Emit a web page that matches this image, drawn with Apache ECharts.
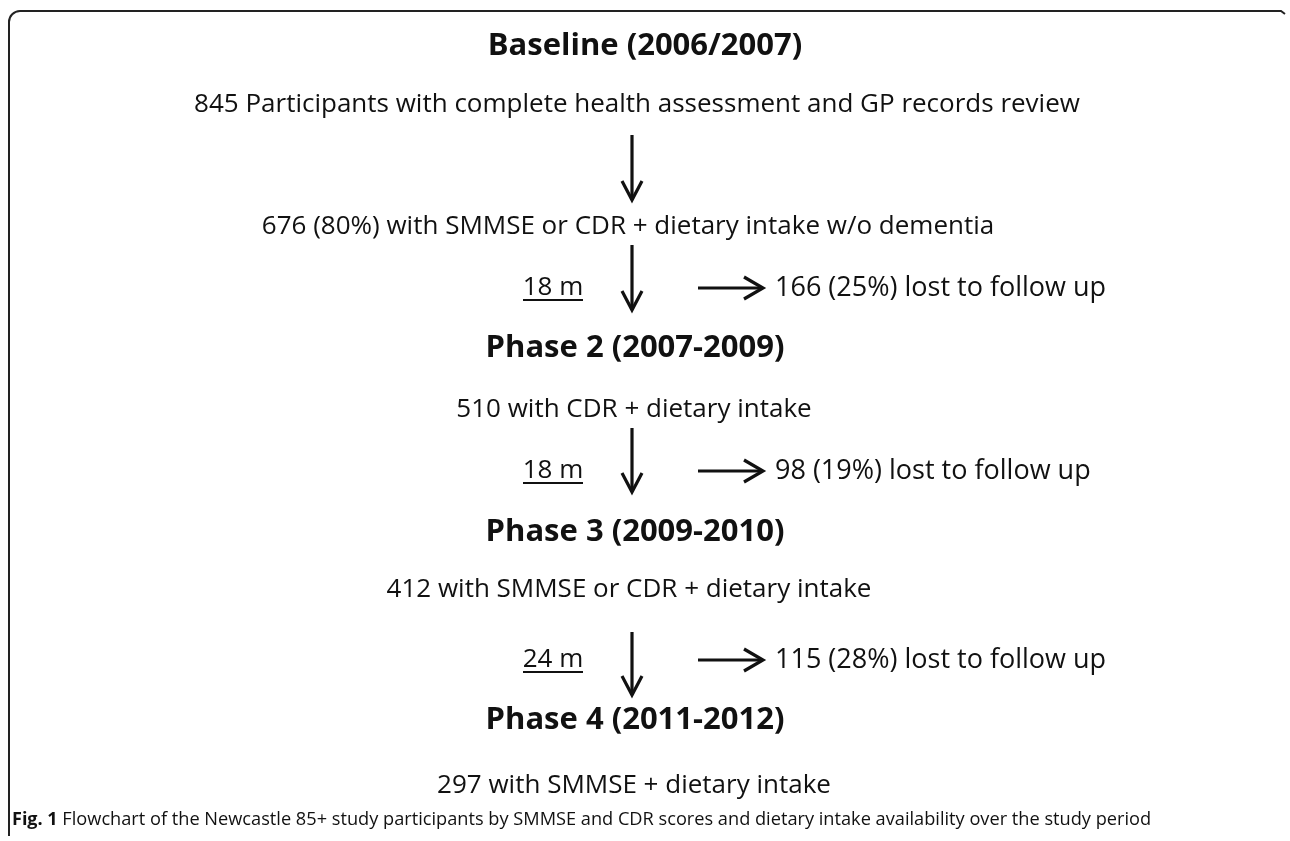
<!DOCTYPE html>
<html>
<head>
<meta charset="utf-8">
<title>Newcastle 85+ flowchart</title>
<script src="https://cdn.jsdelivr.net/npm/echarts@6/dist/echarts.min.js"></script>
<style>
  html, body { margin: 0; padding: 0; background: #fff; }
  #main { width: 1290px; height: 841px; }
</style>
</head>
<body>
<div id="main"></div>
<script>
// chart data
var stages = ["Baseline (2006/2007)", "Phase 2 (2007-2009)", "Phase 3 (2009-2010)", "Phase 4 (2011-2012)"];
var sampleText = [
  "845 Participants with complete health assessment and GP records review",
  "676 (80%) with SMMSE or CDR + dietary intake w/o dementia",
  "510 with CDR + dietary intake",
  "412 with SMMSE or CDR + dietary intake",
  "297 with SMMSE + dietary intake"
];
var intervals = ["18 m", "18 m", "24 m"];
var lostCount = [166, 98, 115];
var lostPct = [25, 19, 28];
var caption = "Flowchart of the Newcastle 85+ study participants by SMMSE and CDR scores and dietary intake availability over the study period";

// layout (pixel space of the hidden grid)
var stageX = [645, 635, 635, 635];
var stageY = [46, 348, 532, 720];
var sampleX = [637, 628, 634, 629, 634];
var sampleY = [105, 227, 410, 590, 786];
var stepY = [288, 471, 660];
var downArrows = [[135, 200], [245, 310], [428, 492], [632, 695]];
var arrowX = 632;

var ink = "#111";
var chart = echarts.init(document.getElementById("main"));

function textPoints(xs, ys, texts) {
  return texts.map(function (t, i) { return [xs[i], ys[i], t]; });
}

var stageData = textPoints(stageX, stageY, stages);
var sampleData = textPoints(sampleX, sampleY, sampleText);
var intervalData = intervals.map(function (t, i) { return [553, stepY[i], t]; });
var lostData = lostCount.map(function (n, i) {
  return [775, stepY[i], n + " (" + lostPct[i] + "%) lost to follow up"];
});

function textSeries(data, font, align) {
  return {
    type: "scatter",
    symbolSize: 0,
    silent: true,
    itemStyle: { color: "#fff", opacity: 1 },
    data: data,
    label: {
      show: true,
      position: [0, 0],
      align: align,
      verticalAlign: "middle",
      formatter: function (p) { return p.value[2]; },
      color: ink,
      textBorderWidth: 0,
      textBorderColor: "transparent",
      fontFamily: font.family,
      fontWeight: font.weight,
      fontSize: font.size
    }
  };
}

var arrowData = downArrows.map(function (a, i) {
  return [arrowX, a[0], a[1], i];
});

function chevron(api, tip, dir) {
  // dir: "down" or "right"
  var p = api.coord(tip);
  var pts = dir === "down"
    ? [[p[0] - 10, p[1] - 19], p, [p[0] + 10, p[1] - 19]]
    : [[p[0] - 19, p[1] - 11], p, [p[0] - 19, p[1] + 11]];
  return { type: "polyline", shape: { points: pts }, style: { stroke: ink, lineWidth: 3.2, fill: null } };
}

var frameStyle = { stroke: "#222", lineWidth: 2, fill: null };

chart.setOption({
  animation: false,
  backgroundColor: "#fff",
  grid: { left: 0, right: 0, top: 0, bottom: 0 },
  xAxis: { type: "value", min: 0, max: 1290, show: false },
  yAxis: { type: "value", min: 0, max: 841, inverse: true, show: false },
  graphic: [
    { type: "line", shape: { x1: 9, y1: 22, x2: 9, y2: 836 }, style: frameStyle },
    { type: "arc", shape: { cx: 20, cy: 22, r: 11, startAngle: Math.PI, endAngle: Math.PI * 1.5 }, style: frameStyle },
    { type: "polyline", shape: { points: [[20, 11], [1281, 11], [1285, 14]] }, style: frameStyle },
    {
      type: "text",
      left: 12,
      top: 811,
      style: {
        text: "{b|Fig. 1} " + caption,
        rich: { b: { fontWeight: "bold", fontSize: 18, fontFamily: "Open Sans", fill: "#111" } },
        fontFamily: "Open Sans",
        fontSize: 18.2,
        fill: "#111"
      }
    }
  ],
  series: [
    textSeries(stageData, { family: "Open Sans", weight: "bold", size: 31 }, "center"),
    textSeries(sampleData, { family: "Open Sans", weight: "normal", size: 26 }, "center"),
    textSeries(intervalData, { family: "Open Sans", weight: "normal", size: 26 }, "center"),
    textSeries(lostData, { family: "Open Sans", weight: "normal", size: 27 }, "left"),
    {
      // down arrows between stages
      type: "custom",
      silent: true,
      data: arrowData,
      renderItem: function (params, api) {
        var x = api.value(0), y0 = api.value(1), y1 = api.value(2);
        var a = api.coord([x, y0]), b = api.coord([x, y1]);
        return {
          type: "group",
          children: [
            { type: "line", shape: { x1: a[0], y1: a[1], x2: b[0], y2: b[1] }, style: { stroke: ink, lineWidth: 3.2 } },
            chevron(api, [x, y1], "down")
          ]
        };
      }
    },
    {
      // side arrows to the lost-to-follow-up counts, with underline of interval
      type: "custom",
      silent: true,
      data: stepY.map(function (y, i) { return [698, 763, y, i]; }),
      renderItem: function (params, api) {
        var y = api.value(2);
        var a = api.coord([api.value(0), y]), b = api.coord([api.value(1), y]);
        var u0 = api.coord([523, y + 12]), u1 = api.coord([583, y + 12]);
        return {
          type: "group",
          children: [
            { type: "line", shape: { x1: a[0], y1: a[1], x2: b[0], y2: b[1] }, style: { stroke: ink, lineWidth: 3.2 } },
            chevron(api, [api.value(1), y], "right"),
            { type: "line", shape: { x1: u0[0], y1: u0[1], x2: u1[0], y2: u1[1] }, style: { stroke: ink, lineWidth: 2 } }
          ]
        };
      }
    }
  ]
});
</script>
</body>
</html>
